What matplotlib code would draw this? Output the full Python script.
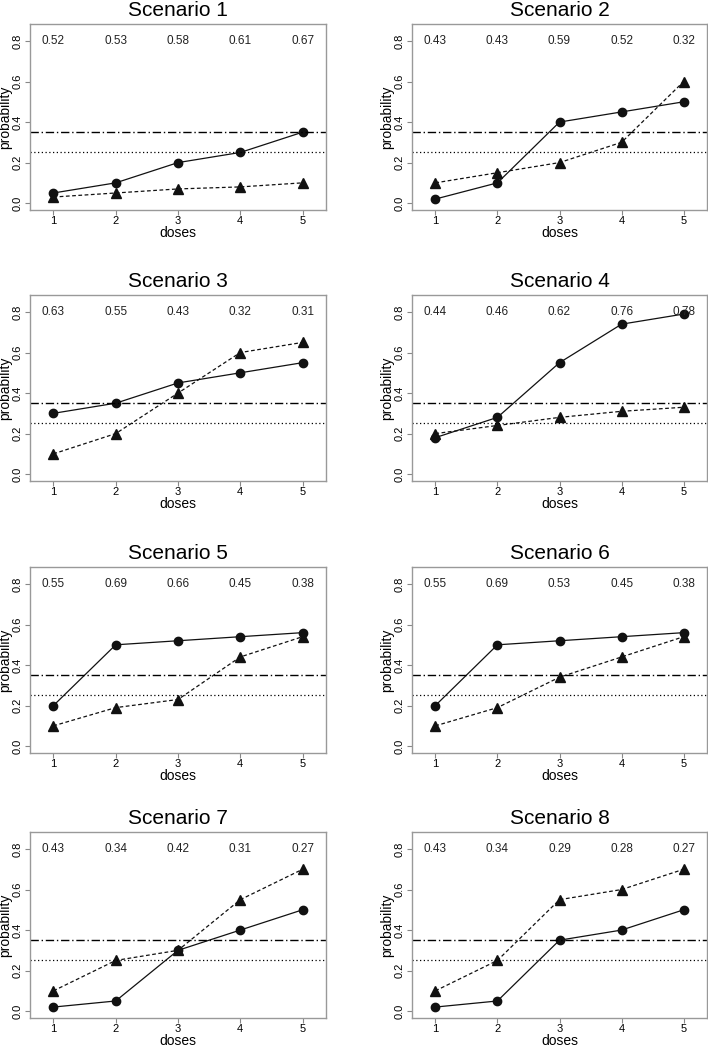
import matplotlib
matplotlib.use("Agg")
import matplotlib.pyplot as plt

plt.rcParams['font.family'] = ['Liberation Sans', 'DejaVu Sans']

doses = [1, 2, 3, 4, 5]
titles = ["Scenario 1", "Scenario 2", "Scenario 3", "Scenario 4",
          "Scenario 5", "Scenario 6", "Scenario 7", "Scenario 8"]

# solid line, circles
circ = [
    [0.05, 0.10, 0.20, 0.25, 0.35],
    [0.02, 0.10, 0.40, 0.45, 0.50],
    [0.30, 0.35, 0.45, 0.50, 0.55],
    [0.18, 0.28, 0.55, 0.74, 0.79],
    [0.20, 0.50, 0.52, 0.54, 0.56],
    [0.20, 0.50, 0.52, 0.54, 0.56],
    [0.02, 0.05, 0.30, 0.40, 0.50],
    [0.02, 0.05, 0.35, 0.40, 0.50],
]
# dashed line, triangles
tri = [
    [0.03, 0.05, 0.07, 0.08, 0.10],
    [0.10, 0.15, 0.20, 0.30, 0.60],
    [0.10, 0.20, 0.40, 0.60, 0.65],
    [0.20, 0.24, 0.28, 0.31, 0.33],
    [0.10, 0.19, 0.23, 0.44, 0.54],
    [0.10, 0.19, 0.34, 0.44, 0.54],
    [0.10, 0.25, 0.30, 0.55, 0.70],
    [0.10, 0.25, 0.55, 0.60, 0.70],
]
# numbers printed on top
top_vals = [
    ["0.52", "0.53", "0.58", "0.61", "0.67"],
    ["0.43", "0.43", "0.59", "0.52", "0.32"],
    ["0.63", "0.55", "0.43", "0.32", "0.31"],
    ["0.44", "0.46", "0.62", "0.76", "0.78"],
    ["0.55", "0.69", "0.66", "0.45", "0.38"],
    ["0.55", "0.69", "0.53", "0.45", "0.38"],
    ["0.43", "0.34", "0.42", "0.31", "0.27"],
    ["0.43", "0.34", "0.29", "0.28", "0.27"],
]
upper = 0.35
lower = 0.25

W, H = 708, 1050
fig = plt.figure(figsize=(W / 100, H / 100), dpi=100)

lefts = [30, 412]
widths = [296, 295]
tops = [24, 295, 567, 832]
ah = 186

for i in range(8):
    r, c = divmod(i, 2)
    x0 = lefts[c]
    y0 = tops[r]
    ax = fig.add_axes([x0 / W, 1 - (y0 + ah) / H, widths[c] / W, ah / H])
    ax.plot(doses, circ[i], color='#111111', lw=0.9, marker='o', ms=6)
    ax.plot(doses, tri[i], color='#111111', lw=0.9, ls=(0, (3, 2)), marker='^', ms=7)
    ax.axhline(upper, color='black', lw=1.0, ls=(0, (6, 2, 1, 2)))
    ax.axhline(lower, color='black', lw=0.9, ls=(0, (1, 2)))
    for d, s in zip(doses, top_vals[i]):
        ax.text(d, 0.8, s, ha='center', va='center', fontsize=8.5, color='#222222')
    ax.set_xlim(0.624, 5.376)
    ax.set_ylim(-0.034, 0.884)
    ax.set_xticks(doses)
    ax.set_yticks([0.0, 0.2, 0.4, 0.6, 0.8])
    ax.set_yticklabels(["0.0", "0.2", "0.4", "0.6", "0.8"], rotation=90, va='center')
    ax.tick_params(labelsize=8, color='#888888', length=3.5)
    ax.tick_params(axis='x', pad=1)
    ax.tick_params(axis='y', pad=2)
    for sp in ax.spines.values():
        sp.set_color('#999999')
        sp.set_linewidth(1.0)
    ax.set_title(titles[i], fontsize=15, pad=6)
    ax.set_xlabel("doses", fontsize=10, labelpad=0)
    ax.set_ylabel("probability", fontsize=10, labelpad=0)

fig.savefig("out.png", dpi=100)
